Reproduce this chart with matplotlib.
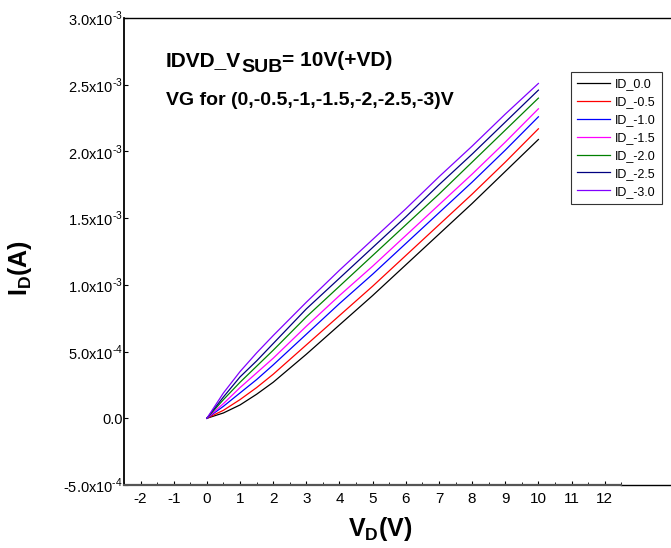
import matplotlib
matplotlib.use("Agg")
import matplotlib.pyplot as plt
from matplotlib.ticker import FixedLocator

plt.rcParams['font.family'] = ['Liberation Sans', 'DejaVu Sans']
plt.rcParams['mathtext.fontset'] = 'custom'
plt.rcParams['mathtext.rm'] = 'Liberation Sans'
plt.rcParams['mathtext.bf'] = 'Liberation Sans:bold'
plt.rcParams['axes.unicode_minus'] = False

# VD sweep (V) and drain currents (mA)
vd = [0, 0.5, 1, 1.5, 2, 3, 4, 5, 6, 7, 8, 9, 10]
id_0_0 = [0, 0.04, 0.10, 0.18, 0.27, 0.48, 0.70, 0.92, 1.15, 1.38, 1.61, 1.85, 2.09]
id_m0_5 = [0, 0.06, 0.14, 0.23, 0.33, 0.55, 0.77, 0.99, 1.22, 1.45, 1.68, 1.92, 2.17]
id_m1_0 = [0, 0.09, 0.19, 0.29, 0.40, 0.63, 0.86, 1.08, 1.31, 1.54, 1.77, 2.01, 2.26]
id_m1_5 = [0, 0.11, 0.23, 0.34, 0.45, 0.69, 0.92, 1.14, 1.37, 1.60, 1.83, 2.07, 2.32]
id_m2_0 = [0, 0.14, 0.27, 0.39, 0.51, 0.76, 0.99, 1.22, 1.45, 1.68, 1.92, 2.16, 2.40]
id_m2_5 = [0, 0.16, 0.31, 0.43, 0.56, 0.82, 1.05, 1.28, 1.51, 1.75, 1.98, 2.22, 2.46]
id_m3_0 = [0, 0.19, 0.35, 0.49, 0.62, 0.87, 1.11, 1.34, 1.57, 1.81, 2.04, 2.28, 2.51]

series = [id_0_0, id_m0_5, id_m1_0, id_m1_5, id_m2_0, id_m2_5, id_m3_0]
labels = ['ID_0.0', 'ID_-0.5', 'ID_-1.0', 'ID_-1.5', 'ID_-2.0', 'ID_-2.5', 'ID_-3.0']
colors = ['#000000', '#ff0000', '#0000ff', '#ff00ff', '#008000', '#000080', '#8000ff']

y_ticks = [-5e-4, 0, 5e-4, 1e-3, 1.5e-3, 2e-3, 2.5e-3, 3e-3]
y_tick_labels = [r'-5.0x10$^{\text{-}4}$', '0.0', r'5.0x10$^{\text{-}4}$', r'1.0x10$^{\text{-}3}$',
                 r'1.5x10$^{\text{-}3}$', r'2.0x10$^{\text{-}3}$', r'2.5x10$^{\text{-}3}$',
                 r'3.0x10$^{\text{-}3}$']
x_ticks = list(range(-2, 13))

fig = plt.figure(figsize=(6.71, 5.48), dpi=100)
ax = fig.add_axes([0.1848, 0.115, 0.8152, 0.852])

for ys, lab, col in zip(series, labels, colors):
    ax.plot(vd, [v * 1e-3 for v in ys], color=col, lw=0.9, label=lab)

ax.set_xlim(-2.5, 14.0)
ax.set_ylim(-5e-4, 3e-3)

ax.xaxis.set_major_locator(FixedLocator(x_ticks))
ax.xaxis.set_minor_locator(FixedLocator([x + 0.5 for x in range(-3, 13)]))
ax.set_yticks(y_ticks)
ax.set_yticklabels(y_tick_labels)

ax.tick_params(axis='both', which='both', direction='in', labelsize=10.5)
ax.tick_params(axis='x', which='major', length=3, pad=5, labelsize=11)
ax.tick_params(axis='x', which='minor', length=2)
ax.tick_params(axis='y', which='major', length=3, pad=1)

ax.spines['right'].set_visible(False)
ax.spines['left'].set_linewidth(1.3)
ax.spines['top'].set_linewidth(1.0)
ax.spines['bottom'].set_bounds(-2.5, 12.5)
ax.spines['bottom'].set_color('#555555')
ax.spines['bottom'].set_linewidth(1.6)
ax.axhline(-5e-4, xmin=15.0 / 16.5, xmax=1.0, color='k', lw=1.0, clip_on=False)

ax.set_xlabel(r'$\mathbf{V_D(V)}$', fontsize=18)
ax.set_ylabel(r'$\mathbf{I_D(A)}$', fontsize=18)
ax.xaxis.set_label_coords(0.468, -0.065, transform=ax.transAxes)
ax.yaxis.set_label_coords(-0.165, 0.465, transform=ax.transAxes)
ax.xaxis.label.set_va('top')

# two-line note, SUB lowered but nearly full size like the original
t1 = ax.text(0.077, 0.897, 'IDVD_V', transform=ax.transAxes, fontsize=15, fontweight='bold')
t2 = ax.annotate('SUB', xy=(1, 0), xycoords=t1, xytext=(0, -4), textcoords='offset points',
                 fontsize=14, fontweight='bold', va='bottom')
ax.annotate('= 10V(+VD)', xy=(1, 0), xycoords=t2, xytext=(0, 4), textcoords='offset points',
            fontsize=15, fontweight='bold', va='bottom')
ax.text(0.077, 0.814, 'VG for (0,-0.5,-1,-1.5,-2,-2.5,-3)V', transform=ax.transAxes,
        fontsize=14, fontweight='bold')

leg = ax.legend(loc='upper left', bbox_to_anchor=(0.817, 0.884), fontsize=9,
                frameon=True, fancybox=False, edgecolor='#333333', framealpha=1,
                handlelength=2.6, handletextpad=0.4, labelspacing=0.47,
                borderpad=0.5, borderaxespad=0)
leg.get_frame().set_linewidth(0.8)

fig.savefig('out.png', dpi=100)
